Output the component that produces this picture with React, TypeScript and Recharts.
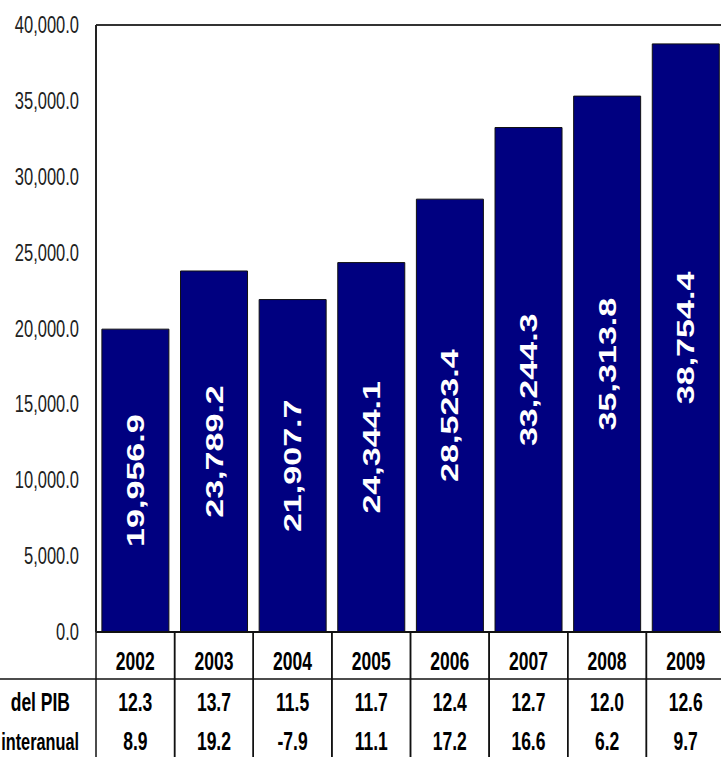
import React from "react";
import { BarChart, Bar, XAxis, YAxis, ReferenceLine, LabelList } from "recharts";

const years = ["2002", "2003", "2004", "2005", "2006", "2007", "2008", "2009"];
const recaudacion = [19956.9, 23789.2, 21907.7, 24344.1, 28523.4, 33244.3, 35313.8, 38754.4];
const pctPib = ["12.3", "13.7", "11.5", "11.7", "12.4", "12.7", "12.0", "12.6"];
const varInteranual = ["8.9", "19.2", "-7.9", "11.1", "17.2", "16.6", "6.2", "9.7"];
const yTicks = [0, 5000, 10000, 15000, 20000, 25000, 30000, 35000, 40000];
const rowLabels = ["del PIB", "interanual"];

const data = years.map((y, i) => ({ year: y, value: recaudacion[i] }));

const W = 726;
const H = 757;
const XH = 125;
const M = { top: 25, right: 1, bottom: 0, left: 0 };
const YW = 96;
const SY = 1.42;
const FONT = "'Liberation Sans', Arial, sans-serif";

const fmt = (v: number) =>
  v.toLocaleString("en-US", { minimumFractionDigits: 1, maximumFractionDigits: 1 });

const YTick = (props: any) => {
  const { y, payload } = props;
  return (
    <text
      transform={`translate(79, ${y}) scale(1, ${SY})`}
      textAnchor="end"
      dominantBaseline="central"
      fontFamily={FONT}
      fontSize={16.5}
      fill="#222"
    >
      {fmt(payload.value)}
    </text>
  );
};

const XTick = (props: any) => {
  const { x, payload, index } = props;
  const plotW = W - M.left - M.right - YW;
  const bw = plotW / years.length;
  const top = H - XH;
  const i = index ?? years.indexOf(payload.value);
  const cell = (txt: string, cy: number) => (
    <text
      transform={`translate(${x}, ${cy}) scale(1, ${SY})`}
      textAnchor="middle"
      dominantBaseline="central"
      fontFamily={FONT}
      fontWeight="bold"
      fontSize={17.5}
      fill="#000"
    >
      {txt}
    </text>
  );
  return (
    <g>
      {i === 0 && (
        <g>
          <line x1={0} x2={W} y1={top + 47} y2={top + 47} stroke="#111" strokeWidth={1.5} />
          <text
            transform={`translate(70, ${top + 71}) scale(1, ${SY})`}
            textAnchor="end"
            dominantBaseline="central"
            fontFamily={FONT}
            fontWeight="bold"
            fontSize={17.5}
            fill="#000"
          >
            {rowLabels[0]}
          </text>
          <text
            transform={`translate(79, ${top + 110}) scale(1, ${SY})`}
            textAnchor="end"
            dominantBaseline="central"
            fontFamily={FONT}
            fontWeight="bold"
            fontSize={16.3}
            fill="#000"
          >
            {rowLabels[1]}
          </text>
        </g>
      )}
      <line x1={x - bw / 2} x2={x - bw / 2} y1={top} y2={H} stroke="#111" strokeWidth={1.5} />
      <line x1={x + bw / 2} x2={x + bw / 2} y1={top} y2={H} stroke="#111" strokeWidth={1.5} />
      {cell(payload.value, top + 30)}
      {cell(pctPib[i], top + 71)}
      {cell(varInteranual[i], top + 110)}
    </g>
  );
};

const BarLabel = (props: any) => {
  const { x, y, width, height, value } = props;
  const cx = x + width / 2;
  const cy = y + height / 2;
  return (
    <text
      transform={`translate(${cx}, ${cy}) scale(1, ${SY}) rotate(-90)`}
      textAnchor="middle"
      dominantBaseline="central"
      fontFamily={FONT}
      fontWeight="bold"
      fontSize={24}
      fill="#fff"
    >
      {fmt(value)}
    </text>
  );
};

export default function App() {
  return (
    <div style={{ position: "absolute", left: 0, top: 0, width: 721, height: 757, overflow: "hidden", background: "#fff" }}>
      <BarChart width={W} height={H} data={data} margin={M} barCategoryGap="7.5%">
        <XAxis
          dataKey="year"
          height={XH}
          axisLine={{ stroke: "#111", strokeWidth: 2 }}
          tickLine={false}
          tick={<XTick />}
          interval={0}
        />
        <YAxis
          width={YW}
          domain={[0, 40000]}
          ticks={yTicks}
          axisLine={{ stroke: "#222", strokeWidth: 2 }}
          tickLine={false}
          tick={<YTick />}
          interval={0}
        />
        <ReferenceLine y={40000} stroke="#333" strokeWidth={2} />
        <Bar dataKey="value" fill="#000080" stroke="#111" strokeWidth={1} isAnimationActive={false}>
          <LabelList dataKey="value" content={<BarLabel />} />
        </Bar>
      </BarChart>
    </div>
  );
}
